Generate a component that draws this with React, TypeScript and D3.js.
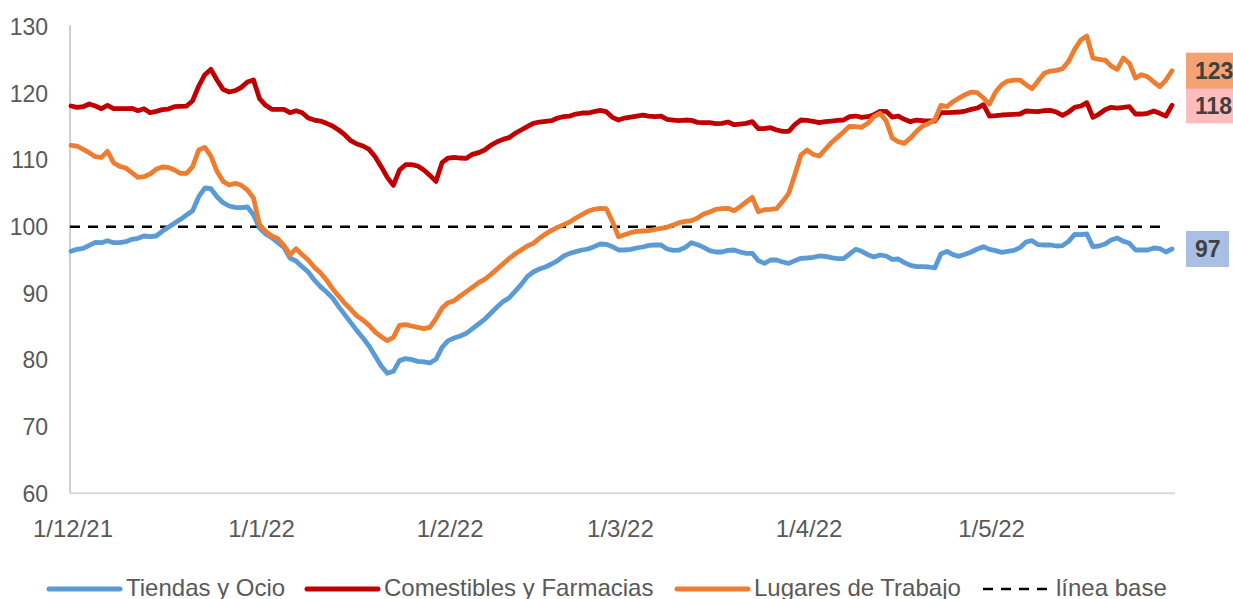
import React from 'react';
import * as d3 from 'd3';

// daily series, 1 Dec 2021 -> 31 May 2022 (index 100 = baseline)
const startDate = new Date(2021, 11, 1);

const tiendas = [
  96.3, 96.6, 96.75, 97.2, 97.65, 97.6, 97.9, 97.6, 97.6, 97.75,
  98.1, 98.25, 98.6, 98.5, 98.6, 99.3, 99.9, 100.5, 101.1, 101.75,
  102.4, 104.5, 105.8, 105.7, 104.5, 103.6, 103.1, 102.9, 102.85, 102.95,
  101.8, 99.8, 98.9, 98.35, 97.6, 96.9, 95.3, 94.85, 94.0, 93.2,
  92.0, 91.0, 90.2, 89.3, 88.0, 86.8, 85.6, 84.4, 83.3, 82.1,
  80.6, 79.1, 78.0, 78.3, 79.9, 80.2, 80.05, 79.8, 79.7, 79.55,
  80.1, 81.9, 82.9, 83.3, 83.6, 84.0, 84.7, 85.4, 86.1, 87.0,
  87.9, 88.75, 89.3, 90.3, 91.3, 92.5, 93.2, 93.65, 93.95, 94.4,
  94.9, 95.6, 96.0, 96.25, 96.5, 96.65, 97.0, 97.4, 97.35, 97.0,
  96.5, 96.5, 96.6, 96.8, 96.95, 97.2, 97.25, 97.25, 96.65, 96.45,
  96.5, 96.9, 97.6, 97.3, 96.9, 96.4, 96.2, 96.2, 96.45, 96.5,
  96.2, 96.0, 96.0, 94.9, 94.5, 95.0, 95.0, 94.7, 94.5, 94.9,
  95.25, 95.3, 95.4, 95.6, 95.55, 95.35, 95.2, 95.2, 95.9, 96.6,
  96.3, 95.8, 95.45, 95.75, 95.6, 95.1, 95.15, 94.6, 94.2, 94.0,
  94.0, 93.95, 93.8, 95.9, 96.3, 95.8, 95.55, 95.85, 96.2, 96.65,
  97.0, 96.6, 96.4, 96.15, 96.3, 96.45, 96.85, 97.7, 97.9, 97.3,
  97.25, 97.25, 97.1, 97.15, 97.8, 98.85, 98.8, 98.9, 97.0, 97.1,
  97.4, 98.0, 98.3, 97.8, 97.5, 96.5, 96.5, 96.5, 96.8, 96.7,
  96.2, 96.65,
];

const comestibles = [
  118.1, 117.9, 118.0, 118.4, 118.1, 117.7, 118.2, 117.7, 117.7, 117.7,
  117.75, 117.4, 117.7, 117.1, 117.3, 117.55, 117.65, 118.0, 118.05, 118.1,
  118.9, 121.1, 122.8, 123.6, 122.0, 120.6, 120.2, 120.4, 120.9, 121.7,
  122.0, 119.2, 118.2, 117.6, 117.6, 117.6, 117.1, 117.4, 117.1, 116.3,
  116.0, 115.85, 115.5, 115.1, 114.5, 113.8, 112.9, 112.4, 112.1, 111.6,
  110.5, 109.0, 107.4, 106.2, 108.5, 109.3, 109.3, 109.1, 108.5, 107.7,
  106.8, 109.6, 110.3, 110.4, 110.3, 110.25, 110.85, 111.1, 111.5, 112.2,
  112.7, 113.1, 113.35, 114.0, 114.5, 115.0, 115.5, 115.7, 115.8, 115.9,
  116.3, 116.5, 116.6, 116.9, 117.05, 117.05, 117.25, 117.45, 117.25, 116.4,
  116.0, 116.3, 116.45, 116.6, 116.75, 116.6, 116.5, 116.6, 116.1, 116.0,
  115.9, 116.0, 115.95, 115.65, 115.6, 115.6, 115.45, 115.5, 115.7, 115.3,
  115.4, 115.5, 115.75, 114.7, 114.7, 114.85, 114.5, 114.3, 114.3, 115.3,
  116.0, 115.95, 115.8, 115.6, 115.75, 115.85, 115.95, 116.0, 116.5, 116.6,
  116.4, 116.5, 116.8, 117.3, 117.3, 116.45, 116.6, 116.1, 115.75, 116.0,
  115.9, 115.85, 115.85, 117.1, 117.1, 117.15, 117.2, 117.35, 117.6, 117.8,
  118.3, 116.6, 116.65, 116.75, 116.8, 116.85, 116.9, 117.35, 117.3, 117.25,
  117.4, 117.45, 117.2, 116.7, 117.2, 117.9, 118.1, 118.6, 116.4, 116.9,
  117.55, 117.9, 117.8, 117.9, 118.0, 116.9, 116.9, 117.0, 117.35, 117.0,
  116.6, 118.2,
];

const trabajo = [
  112.2, 112.1, 111.6, 111.1, 110.5, 110.4, 111.3, 109.6, 109.05, 108.8,
  108.1, 107.4, 107.5, 107.9, 108.6, 108.95, 108.9, 108.5, 108.0, 108.0,
  109.0, 111.5, 111.9, 110.6, 108.3, 106.8, 106.25, 106.5, 106.2, 105.5,
  104.3, 100.3, 99.3, 98.6, 98.2, 97.2, 95.8, 96.7, 95.8, 95.0,
  93.9, 93.1, 92.0, 90.7, 89.6, 88.5, 87.6, 86.6, 86.0, 85.2,
  84.2, 83.5, 82.9, 83.4, 85.2, 85.3, 85.1, 84.9, 84.7, 84.9,
  86.2, 87.8, 88.6, 88.9, 89.6, 90.25, 90.9, 91.6, 92.1, 92.8,
  93.6, 94.4, 95.2, 95.9, 96.5, 97.1, 97.5, 98.25, 98.9, 99.45,
  99.9, 100.3, 100.7, 101.3, 101.8, 102.3, 102.6, 102.75, 102.7, 100.8,
  98.5, 98.8, 99.1, 99.3, 99.35, 99.4, 99.6, 99.75, 99.9, 100.25,
  100.6, 100.8, 100.9, 101.3, 101.9, 102.2, 102.6, 102.7, 102.75, 102.4,
  103.0, 103.7, 104.4, 102.25, 102.55, 102.6, 102.7, 103.8, 105.0, 107.8,
  110.75, 111.5, 110.85, 110.6, 111.6, 112.6, 113.4, 114.2, 115.05, 115.0,
  114.9, 115.5, 116.5, 117.0, 115.9, 113.3, 112.75, 112.5, 113.3, 114.3,
  115.1, 115.5, 116.0, 118.2, 118.0, 118.75, 119.3, 119.8, 120.2, 120.1,
  119.3, 118.4, 120.2, 121.3, 121.85, 122.0, 122.0, 121.3, 120.7, 121.9,
  123.0, 123.35, 123.45, 123.7, 124.8, 126.6, 128.0, 128.6, 125.3, 125.1,
  125.0, 124.1, 123.6, 125.3, 124.5, 122.3, 122.8, 122.5, 121.7, 121.0,
  122.0, 123.4,
];

const baseline = 100;
const yTicks = [60, 70, 80, 90, 100, 110, 120, 130];
const xTickDates = [
  new Date(2021, 11, 1), new Date(2022, 0, 1), new Date(2022, 1, 1),
  new Date(2022, 2, 1), new Date(2022, 3, 1), new Date(2022, 4, 1),
];

const series = [
  { name: 'Tiendas y Ocio', values: tiendas, color: '#5B9BD5', labelBg: '#A9BFE3' },
  { name: 'Comestibles y Farmacias', values: comestibles, color: '#C00000', labelBg: '#FFBDBD' },
  { name: 'Lugares de Trabajo', values: trabajo, color: '#ED7D31', labelBg: '#F4A273' },
];

const font = '"Liberation Sans", Arial, sans-serif';

export default function App() {
  const width = 1233;
  const height = 599;
  const n = tiendas.length;
  const dates = d3.range(n).map((i) => d3.timeDay.offset(startDate, i));

  const x = d3.scaleTime().domain([dates[0], dates[n - 1]]).range([71, 1172]);
  const y = d3.scaleLinear().domain([60, 130]).range([493.3, 26.7]);

  const line = d3.line<number>()
    .x((_, i) => x(dates[i]))
    .y((d) => y(d));

  const fmt = d3.timeFormat('%-d/%-m/%y');

  // legend layout
  const legend = [
    { x: 49, len: 71, name: series[0].name, color: series[0].color, dash: false },
    { x: 307, len: 71, name: series[1].name, color: series[1].color, dash: false },
    { x: 677, len: 71, name: series[2].name, color: series[2].color, dash: false },
    { x: 983, len: 67, name: 'línea base', color: '#000', dash: true },
  ];

  return (
    <svg width={width} height={height} style={{ position: 'absolute', left: 0, top: 0, background: '#fff' }} fontFamily={font}>
      {/* axes */}
      <line x1={70} x2={70} y1={25} y2={493.3} stroke="#D0D0D0" strokeWidth={2} />
      <line x1={70} x2={1175} y1={493.3} y2={493.3} stroke="#D9D9D9" strokeWidth={2} />

      {yTicks.map((t) => (
        <text key={t} x={48} y={y(t)} dy="0.36em" textAnchor="end" fontSize={23} fill="#595959">{t}</text>
      ))}
      {xTickDates.map((d) => (
        <text key={+d} x={x(d) + 2} y={537} textAnchor="middle" fontSize={24} fill="#595959">{fmt(d)}</text>
      ))}

      {/* baseline */}
      <line x1={70} x2={x(dates[n - 2])} y1={y(baseline)} y2={y(baseline)} stroke="#000" strokeWidth={2.5} strokeDasharray="10,8" />

      {series.map((s) => (
        <path key={s.name} d={line(s.values) || ''} fill="none" stroke={s.color} strokeWidth={4.8} strokeLinejoin="round" strokeLinecap="round" />
      ))}

      {/* end labels */}
      {series.map((s) => {
        const last = s.values[n - 1];
        const cy = y(last);
        return (
          <g key={s.name + '-lbl'}>
            <rect x={1186} y={cy - 18} width={s.name === 'Tiendas y Ocio' ? 43 : 60} height={36} fill={s.labelBg} />
            <text x={1195} y={cy} dy="0.36em" fontSize={23} fontWeight="bold" fill="#404040">{Math.round(last)}</text>
          </g>
        );
      })}

      {/* legend */}
      {legend.map((l) => (
        <g key={l.name}>
          <line x1={l.x} x2={l.x + l.len} y1={589} y2={589} stroke={l.color}
            strokeWidth={l.dash ? 2.5 : 5} strokeLinecap={l.dash ? 'butt' : 'round'}
            strokeDasharray={l.dash ? '10,8' : undefined} />
          <text x={l.x + l.len + 6} y={596} fontSize={24} fill="#595959">{l.name}</text>
        </g>
      ))}
    </svg>
  );
}
